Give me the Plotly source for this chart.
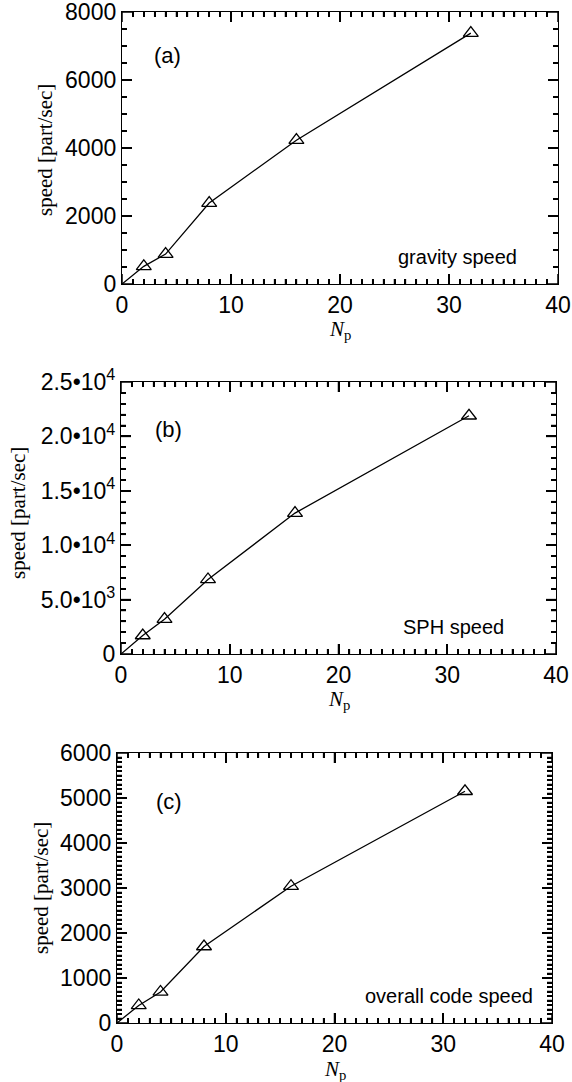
import plotly.graph_objects as go

W, H = 572, 1082

# ---- data ----
n_proc = [2, 4, 8, 16, 32]
origin_x = [0]
origin_y = [0]
gravity_speed = [520, 880, 2380, 4230, 7380]
sph_speed = [1700, 3200, 6850, 12950, 21900]
overall_speed = [390, 690, 1700, 3040, 5150]

x_max, x_major, x_minor = 40, 10, 1
a_major, b_major, c_major = 2000, 5000, 1000
b_alias = {"5000": "5.0•10<sup>3</sup>", "10000": "1.0•10<sup>4</sup>", "15000": "1.5•10<sup>4</sup>",
           "20000": "2.0•10<sup>4</sup>", "25000": "2.5•10<sup>4</sup>"}

panel_labels = ["(a)", "(b)", "(c)"]
panel_notes = ["gravity speed", "SPH speed", "overall code speed"]

# ---- layout geometry (pixels) ----
panels = [
    dict(x0=122, x1=558, y0=12, y1=284, ymax=8000, major=a_major, minor=500, alias={},
         series=gravity_speed, lab=(4.2, 6735), note=(30.8, 804), ytitle=(45, 150), xtitle=330),
    dict(x0=121, x1=556, y0=382, y1=654, ymax=25000, major=b_major, minor=1000, alias=b_alias,
         series=sph_speed, lab=(4.4, 20630), note=(30.6, 2525), ytitle=(18, 513), xtitle=700),
    dict(x0=117, x1=552, y0=753, y1=1023, ymax=6000, major=c_major, minor=100, alias={},
         series=overall_speed, lab=(4.8, 4930), note=(30.5, 606), ytitle=(41, 888), xtitle=1070),
]

MAJ_LEN, MIN_LEN = 10, 5
tick_line = dict(color="black", width=1.5)


def tick_values(vmax, step):
    n = int(round(vmax / step))
    return [k * step for k in range(n + 1)]


fig = go.Figure()
annotations = []
shapes = []
sans = "Liberation Sans, Arial, sans-serif"
tickfont = dict(family=sans, size=23, color="black")
serif = "Liberation Serif, Times New Roman, serif"

for i, p in enumerate(panels):
    sfx = "" if i == 0 else str(i + 1)
    xa, ya = "x" + sfx, "y" + sfx
    fig.add_trace(go.Scatter(x=origin_x + n_proc, y=origin_y + p["series"], mode="lines",
                             line=dict(color="black", width=1.3), xaxis=xa, yaxis=ya,
                             showlegend=False, hoverinfo="skip"))
    fig.add_trace(go.Scatter(x=n_proc, y=p["series"], mode="markers",
                             marker=dict(symbol="triangle-up-open", size=13, color="black",
                                         line=dict(width=1.3, color="black")),
                             xaxis=xa, yaxis=ya, showlegend=False))
    xdom = [p["x0"] / W, p["x1"] / W]
    ydom = [1 - p["y1"] / H, 1 - p["y0"] / H]
    pw, ph = p["x1"] - p["x0"], p["y1"] - p["y0"]
    common = dict(showline=True, linecolor="black", linewidth=1.3, mirror="allticks",
                  ticks="inside", ticklen=MAJ_LEN, tickwidth=1.5, tickcolor="black",
                  showgrid=False, zeroline=False, tickfont=tickfont, automargin=False,
                  ticklabeloverflow="allow", tickformat="d", layer="above traces")
    fig.update_layout(**{
        ("xaxis" + sfx): dict(domain=xdom, range=[0, x_max], tickmode="linear", tick0=0, dtick=x_major,
                              anchor=ya,
                              minor=dict(dtick=x_minor, tick0=0, ticklen=MIN_LEN, ticks="inside",
                                         tickcolor="black", tickwidth=1.5),
                              **common),
        ("yaxis" + sfx): dict(domain=ydom, range=[0, p["ymax"]], tickmode="linear", tick0=0,
                              dtick=p["major"], labelalias=p["alias"], anchor=xa,
                              minor=dict(dtick=p["minor"], tick0=0, ticklen=MIN_LEN, ticks="inside",
                                         tickcolor="black", tickwidth=1.5),
                              **common),
    })

    # tick marks on all four sides, in axis-domain units (same places as the axis ticks)
    x_majors = set(tick_values(x_max, x_major))
    for v in tick_values(x_max, x_minor):
        L = (MAJ_LEN if v in x_majors else MIN_LEN) / ph
        for a0, a1 in ((0, L), (1, 1 - L)):
            shapes.append(dict(type="line", xref=xa, yref=ya + " domain", x0=v, x1=v,
                               y0=a0, y1=a1, line=tick_line, layer="above"))
    y_majors = set(tick_values(p["ymax"], p["major"]))
    for v in tick_values(p["ymax"], p["minor"]):
        L = (MAJ_LEN if v in y_majors else MIN_LEN) / pw
        for a0, a1 in ((0, L), (1, 1 - L)):
            shapes.append(dict(type="line", xref=xa + " domain", yref=ya, y0=v, y1=v,
                               x0=a0, x1=a1, line=tick_line, layer="above"))

    annotations.append(dict(x=p["lab"][0], y=p["lab"][1], xref=xa, yref=ya, text=panel_labels[i],
                            showarrow=False, xanchor="center", yanchor="middle",
                            font=dict(family=sans, size=22, color="black")))
    annotations.append(dict(x=p["note"][0], y=p["note"][1], xref=xa, yref=ya, text=panel_notes[i],
                            showarrow=False, xanchor="center", yanchor="middle",
                            font=dict(family=sans, size=20, color="black")))
    annotations.append(dict(x=p["ytitle"][0] / W, y=1 - p["ytitle"][1] / H, xref="paper", yref="paper",
                            text="speed [part/sec]", textangle=-90, showarrow=False,
                            xanchor="center", yanchor="middle",
                            font=dict(family=serif, size=21, color="black")))
    annotations.append(dict(x=(p["x0"] + p["x1"]) / 2 / W, y=1 - p["xtitle"] / H, xref="paper", yref="paper",
                            text="<i>N</i><sub>p</sub>", showarrow=False,
                            xanchor="center", yanchor="middle",
                            font=dict(family=serif, size=21, color="black")))

fig.update_layout(template="none", width=W, height=H, margin=dict(l=0, r=0, t=0, b=0, autoexpand=False),
                  paper_bgcolor="white", plot_bgcolor="white", annotations=annotations, shapes=shapes)

fig.write_html("out.html")
